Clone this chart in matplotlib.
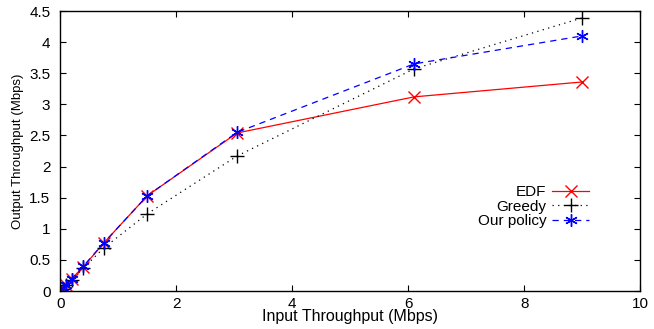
import numpy as np
import matplotlib.pyplot as plt

plt.rcParams['font.family'] = ['Liberation Sans', 'DejaVu Sans']

x_in = [0.05, 0.1, 0.2, 0.4, 0.75, 1.5, 3.05, 6.1, 9.0]
edf = [0.05, 0.1, 0.2, 0.39, 0.77, 1.53, 2.54, 3.12, 3.36]
greedy = [0.04, 0.09, 0.18, 0.37, 0.69, 1.24, 2.17, 3.57, 4.39]
ours = [0.05, 0.1, 0.2, 0.4, 0.77, 1.53, 2.55, 3.65, 4.1]

fig = plt.figure(figsize=(6.54, 3.29), dpi=100)
ax = fig.add_axes([0.092, 0.1155, 0.887, 0.851])

ax.plot(x_in, edf, color='#ff0000', lw=0.9, marker='x', ms=8, mew=1.0, label='EDF')
ax.plot(x_in, greedy, color='black', lw=0.9, ls=(0, (1, 3.5)), marker='+', ms=10, mew=1.0,
        label='Greedy')
ax.plot(x_in, ours, color='#0000ff', lw=0.9, ls=(0, (5, 4)), marker=(6, 2, 0), ms=9, mew=1.0,
        label='Our policy')

ax.set_xlim(0, 10)
ax.set_ylim(0, 4.5)
ax.set_xticks(np.arange(0, 11, 2))
ax.set_yticks(np.arange(0, 4.6, 0.5))
ax.set_yticklabels(['0', '0.5', '1', '1.5', '2', '2.5', '3', '3.5', '4', '4.5'])
ax.tick_params(direction='in', top=True, right=True, labelsize=11, length=4)
ax.tick_params(axis='y', pad=7)
ax.tick_params(axis='x', pad=4)
for s in ax.spines.values():
    s.set_linewidth(1.0)

ax.set_xlabel('Input Throughput (Mbps)', fontsize=11.5, labelpad=-1)
ax.set_ylabel('Output Throughput (Mbps)', fontsize=9.5, labelpad=4)

ax.legend(loc='upper right', bbox_to_anchor=(0.925, 0.405), frameon=False, markerfirst=False,
          fontsize=11, handlelength=2.4, handletextpad=0.4, labelspacing=0.03,
          borderpad=0)

fig.savefig('out.png', dpi=100)
